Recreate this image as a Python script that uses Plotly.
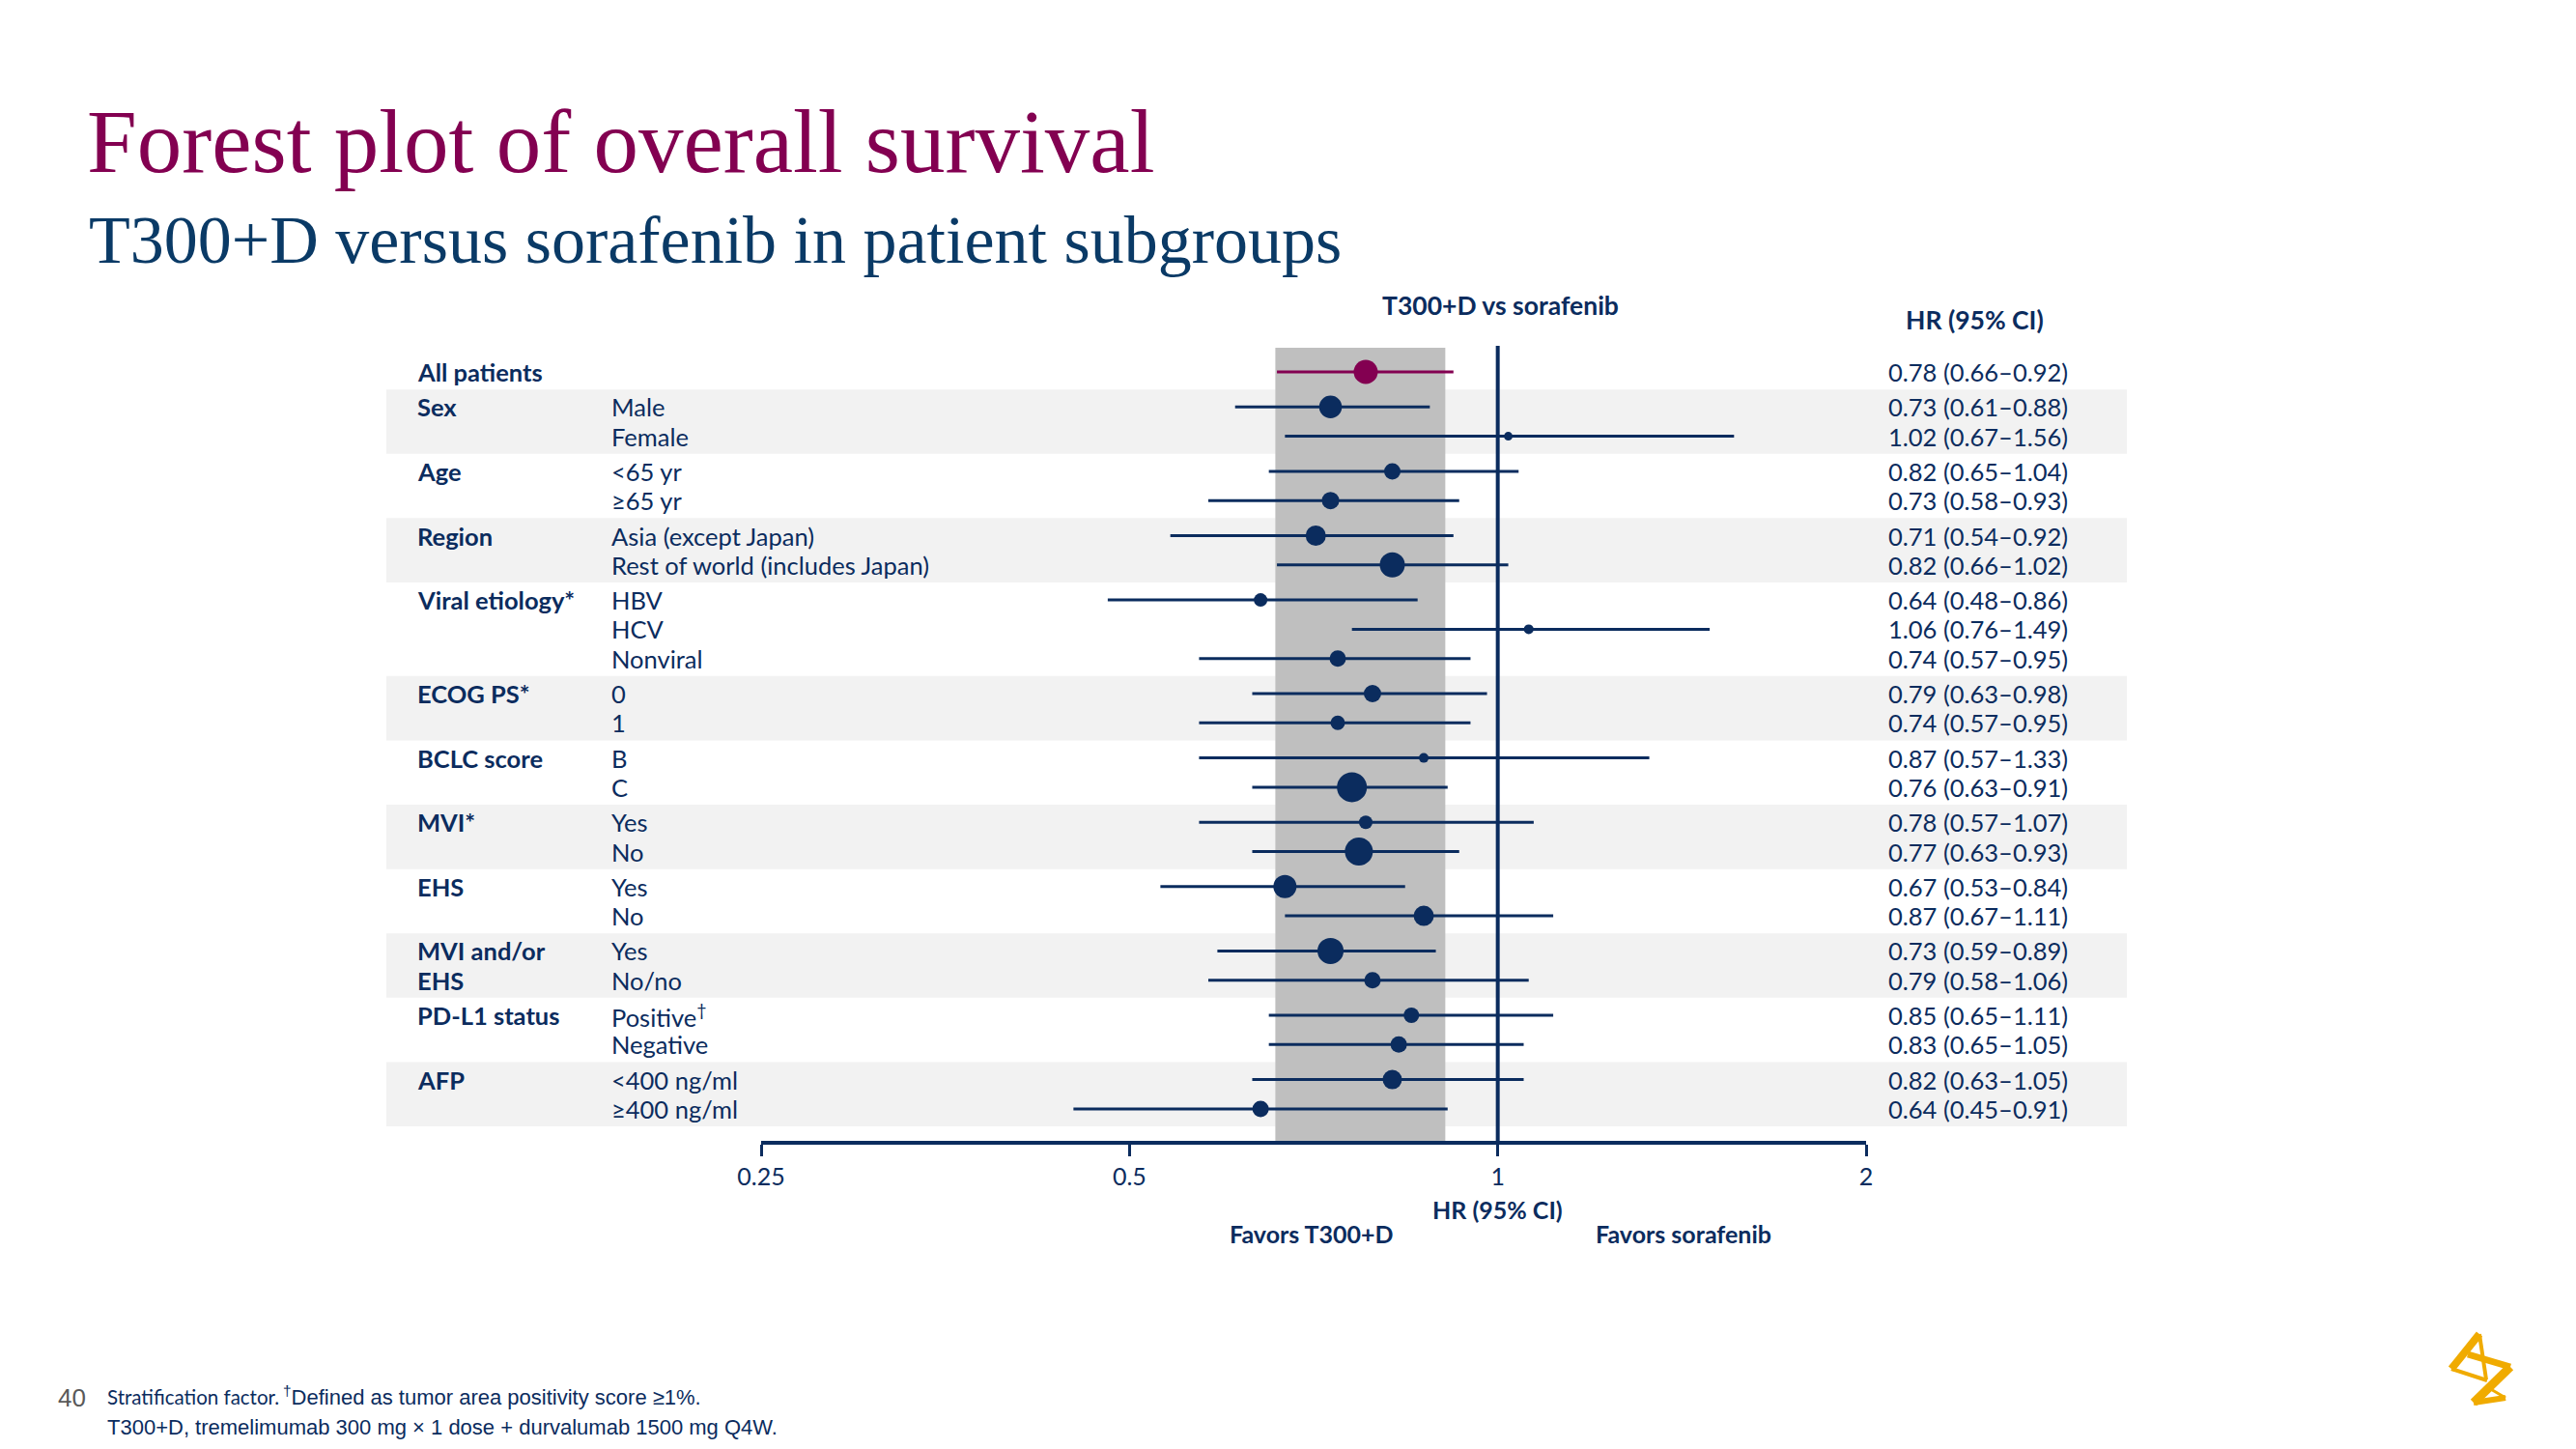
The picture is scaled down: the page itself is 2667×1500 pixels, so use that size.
import math
import plotly.graph_objects as go

# ---------------- data ----------------
overall_label = "All patients"
overall_hr = 0.78
overall_lo = 0.66
overall_hi = 0.92

group_labels = ["Sex", "Age", "Region", "Viral etiology*", "ECOG PS*", "BCLC score",
                "MVI*", "EHS", "MVI and/or|EHS", "PD-L1 status", "AFP"]
subgroup_labels = ["Male", "Female", "<65 yr", "≥65 yr", "Asia (except Japan)",
                   "Rest of world (includes Japan)", "HBV", "HCV", "Nonviral", "0", "1",
                   "B", "C", "Yes", "No", "Yes", "No", "Yes", "No/no",
                   "Positive†", "Negative", "<400 ng/ml", "≥400 ng/ml"]
subgroup_group = [0, 0, 1, 1, 2, 2, 3, 3, 3, 4, 4, 5, 5, 6, 6, 7, 7, 8, 8, 9, 9, 10, 10]
hr = [0.73, 1.02, 0.82, 0.73, 0.71, 0.82, 0.64, 1.06, 0.74, 0.79, 0.74, 0.87, 0.76,
      0.78, 0.77, 0.67, 0.87, 0.73, 0.79, 0.85, 0.83, 0.82, 0.64]
ci_lo = [0.61, 0.67, 0.65, 0.58, 0.54, 0.66, 0.48, 0.76, 0.57, 0.63, 0.57, 0.57, 0.63,
         0.57, 0.63, 0.53, 0.67, 0.59, 0.58, 0.65, 0.65, 0.63, 0.45]
ci_hi = [0.88, 1.56, 1.04, 0.93, 0.92, 1.02, 0.86, 1.49, 0.95, 0.98, 0.95, 1.33, 0.91,
         1.07, 0.93, 0.84, 1.11, 0.89, 1.06, 1.11, 1.05, 1.05, 0.91]
shaded_hr_range = [0.658, 0.906]
x_ticks = [0.25, 0.5, 1, 2]
x_tick_labels = ["0.25", "0.5", "1", "2"]

# ---------------- style ----------------
dot_size_px = [23.5, 9, 17, 18, 21, 26, 14, 10, 17, 18, 15, 10, 31, 14, 29, 24, 21,
               27, 17, 16, 17, 20, 17]
overall_dot_px = 25

W, H = 2667, 1500
NAVY = "#0B2C5E"
PURPLE = "#830051"
SUBNAVY = "#0A3A66"
BAND = "#F2F2F2"
SHADE = "#BFBFBF"
GOLD = "#F0AB00"
SANS = "Lato, 'Open Sans', sans-serif"
SERIF = "'Liberation Serif', 'DejaVu Serif', serif"
ARIAL = "'Liberation Sans', Arial, sans-serif"
LABEL_SIZE = 25.5

ROW0 = 385.0
STEP = 30.3
GAP = 36.3
AXIS_Y = 1183
PANEL_TOP = 359
X_AXIS_LEFT, X_AXIS_RIGHT = 788, 1932


def px(x):
    return x / W


def disp(s):
    return s.replace("<", "&lt;").replace("†", "<sup>†</sup>")


# row positions (pixel-from-top units on a hidden y axis)
row_y = []
y = ROW0
for i, g in enumerate(subgroup_group):
    y += GAP if (i == 0 or g != subgroup_group[i - 1]) else STEP
    row_y.append(y)

fig = go.Figure()

# subgroup estimates
fig.add_trace(go.Scatter(
    x=hr, y=row_y, mode="markers",
    marker=dict(color=NAVY, size=dot_size_px, opacity=1, line=dict(width=0)),
    error_x=dict(type="data", symmetric=False,
                 array=[h - m for h, m in zip(ci_hi, hr)],
                 arrayminus=[m - l for m, l in zip(hr, ci_lo)],
                 color=NAVY, thickness=3, width=0),
    showlegend=False, hoverinfo="skip"))

# overall estimate
fig.add_trace(go.Scatter(
    x=[overall_hr], y=[ROW0], mode="markers",
    marker=dict(color=PURPLE, size=overall_dot_px, opacity=1, line=dict(width=0)),
    error_x=dict(type="data", symmetric=False,
                 array=[overall_hi - overall_hr], arrayminus=[overall_hr - overall_lo],
                 color=PURPLE, thickness=3, width=0),
    showlegend=False, hoverinfo="skip"))

shapes = []
# alternating group bands
for gi in range(0, len(group_labels), 2):
    ys = [row_y[i] for i, g in enumerate(subgroup_group) if g == gi]
    shapes.append(dict(type="rect", xref="paper", yref="y", x0=px(400), x1=px(2202),
                       y0=min(ys) - GAP / 2, y1=max(ys) + GAP / 2,
                       fillcolor=BAND, line=dict(width=0), layer="below"))
# shaded range
shapes.append(dict(type="rect", xref="x", yref="y", x0=shaded_hr_range[0], x1=shaded_hr_range[1],
                   y0=PANEL_TOP + 1, y1=AXIS_Y, fillcolor=SHADE, line=dict(width=0), layer="below"))
# line of no effect
shapes.append(dict(type="line", xref="x", yref="y", x0=1, x1=1, y0=PANEL_TOP - 1, y1=AXIS_Y,
                   line=dict(color=NAVY, width=4), layer="below"))


# logo (approximate ribbon mark)
def path_px(points):
    return "M " + " L ".join(f"{px(a):.5f},{b:.1f}" for a, b in points)


logo_strokes = [
    ([(2567, 1381), (2538, 1417)], 8),
    ([(2538, 1417), (2575, 1429)], 4),
    ([(2567, 1381), (2574, 1428)], 4),
    ([(2555, 1402), (2599, 1415)], 7),
    ([(2599, 1415), (2561, 1452)], 9),
    ([(2561, 1452), (2594, 1447)], 6),
    ([(2594, 1447), (2577, 1437)], 3),
]
for pts, wdt in logo_strokes:
    shapes.append(dict(type="path", xref="paper", yref="y", path=path_px(pts),
                       line=dict(color=GOLD, width=wdt)))

annotations = []


def ann(text, x, y, size, color=NAVY, family=SANS, xanchor="left", xref="paper"):
    annotations.append(dict(text=text, x=px(x) if xref == "paper" else x, y=y,
                            xref=xref, yref="y", xanchor=xanchor, yanchor="middle",
                            showarrow=False, font=dict(family=family, size=size, color=color)))


# titles
ann("Forest plot of overall survival", 88, 146, 93, color=PURPLE, family=SERIF)
ann("T300+D versus sorafenib in patient subgroups", 90, 248, 70, color=SUBNAVY, family=SERIF)

# column headers
ann("<b>T300+D vs sorafenib</b>", 1553, 316, 26.5, xanchor="center")
ann("<b>HR (95% CI)</b>", 2044, 331, 26.5, xanchor="center")

# overall row
ann(f"<b>{overall_label}</b>", 430, ROW0, LABEL_SIZE)
ann(f"{overall_hr:.2f} ({overall_lo:.2f}–{overall_hi:.2f})", 1953, ROW0, LABEL_SIZE)

# group labels
for gi, lab in enumerate(group_labels):
    idx = [i for i, g in enumerate(subgroup_group) if g == gi]
    for k, line in enumerate(lab.split("|")):
        ann(f"<b>{disp(line)}</b>", 430, row_y[idx[k]], LABEL_SIZE)

# subgroup labels and HR text
for i, lab in enumerate(subgroup_labels):
    ann(disp(lab), 631, row_y[i], LABEL_SIZE)
    ann(f"{hr[i]:.2f} ({ci_lo[i]:.2f}–{ci_hi[i]:.2f})", 1953, row_y[i], LABEL_SIZE)

# axis captions
ann("<b>HR (95% CI)</b>", math.log10(1), 1252, 25, xanchor="center", xref="x")
ann("<b>Favors T300+D</b>", 1358, 1277, 25, xanchor="center")
ann("<b>Favors sorafenib</b>", 1743, 1277, 25, xanchor="center")

# footnotes
ann("40", 58, 1447, 26, color="#595959", family=ARIAL)
ann("Stratification factor.", 109, 1446, 20.5, family=SANS)
ann("<sup>†</sup>Defined as tumor area positivity score ≥1%.", 291, 1445, 22, family=ARIAL)
ann("T300+D, tremelimumab 300 mg × 1 dose + durvalumab 1500 mg Q4W.", 109, 1477, 22, family=ARIAL)

fig.update_layout(
    width=W, height=H,
    margin=dict(l=0, r=0, t=0, b=0, pad=0, autoexpand=False),
    paper_bgcolor="white", plot_bgcolor="rgba(0,0,0,0)",
    shapes=shapes, annotations=annotations,
    xaxis=dict(type="log", range=[math.log10(x_ticks[0]), math.log10(x_ticks[-1])],
               domain=[px(X_AXIS_LEFT), px(X_AXIS_RIGHT)],
               anchor="free", position=1 - AXIS_Y / H, automargin=False,
               showline=True, linecolor=NAVY, linewidth=4,
               ticks="outside", ticklen=12, tickwidth=3, tickcolor=NAVY,
               tickvals=x_ticks, ticktext=x_tick_labels,
               tickfont=dict(family=SANS, size=25, color=NAVY),
               showgrid=False, zeroline=False, fixedrange=True),
    yaxis=dict(range=[H, 0], domain=[0, 1], visible=False, showgrid=False,
               zeroline=False, fixedrange=True, automargin=False),
)

fig.write_html("out.html")
